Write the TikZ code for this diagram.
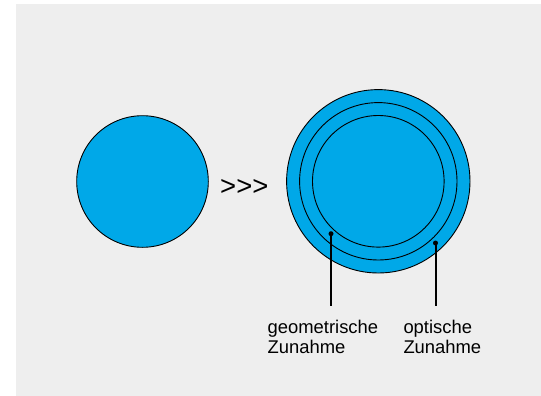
\documentclass[tikz,border=0pt]{standalone}
\usepackage{fontspec}
\setmainfont{Liberation Sans}
\definecolor{bg}{HTML}{EEEEEE}
\definecolor{lens}{HTML}{00A8E8}
\begin{document}
\begin{tikzpicture}[x=1pt,y=-1pt,
  disc/.style={circle,draw=black,line width=0.9pt,fill=lens,inner sep=0pt,minimum size=#1},
  ring/.style={circle,draw=black,line width=0.9pt,inner sep=0pt,minimum size=#1},
  dotmark/.style={circle,fill=black,inner sep=0pt,minimum size=5pt},
  leader/.style={line width=2pt},
  lbl/.style={anchor=north west,inner sep=0pt,align=left,font=\fontsize{18.4}{20.6}\selectfont}
]
\useasboundingbox (0,0) rectangle (541,396);
\fill[bg] (16,4) rectangle (541,396);
\node[disc=131.6pt] (small) at (142.5,181.5) {};
\node[inner sep=0pt,font=\fontsize{27.5}{30}\selectfont] (arrows) at (244.3,187) {{>}{>}{>}};
\node[disc=183.4pt] (outer) at (378.3,181.3) {};
\node[ring=157.4pt] (middle) at (378.3,181.3) {};
\node[ring=131.6pt] (inner) at (378.3,181.3) {};
\node[dotmark] (gdot) at (331,233.7) {};
\node[dotmark] (odot) at (435.5,243) {};
\coordinate (gend) at (331,305.7);
\coordinate (oend) at (435.5,305.7);
\draw[leader] (gdot.center) -- (gend);
\draw[leader] (odot.center) -- (oend);
\node[lbl] (glabel) at (267.5,319.5) {geometrische\\Zunahme};
\node[lbl] (olabel) at (403.3,319.5) {optische\\Zunahme};
\end{tikzpicture}
\end{document}
